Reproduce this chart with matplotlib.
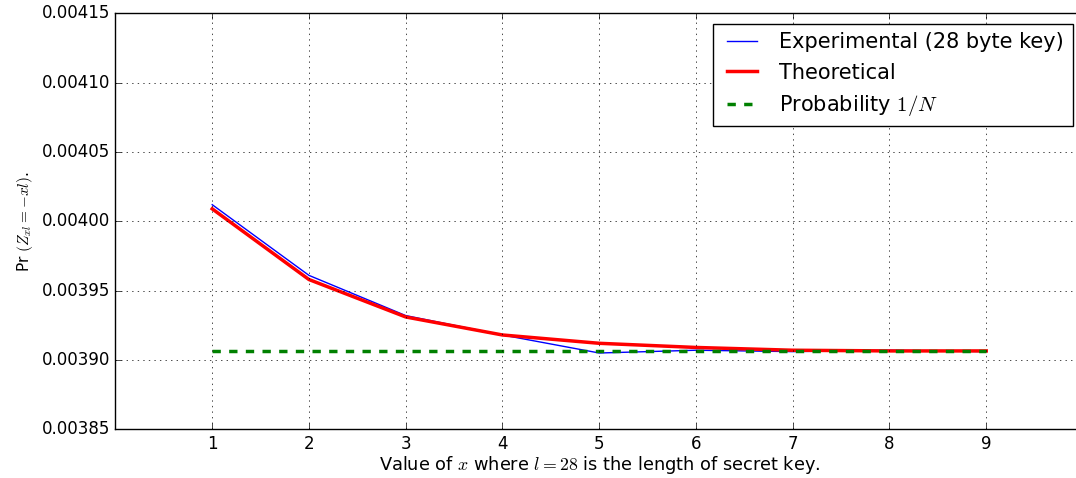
import matplotlib
matplotlib.use("Agg")
import matplotlib.pyplot as plt
from matplotlib.ticker import FormatStrFormatter

plt.style.use("classic")

x = [1, 2, 3, 4, 5, 6, 7, 8, 9]
experimental = [0.004012, 0.003961, 0.003932, 0.003918, 0.003905, 0.003907, 0.003906, 0.003907, 0.003906]
theoretical = [0.004009, 0.003958, 0.003931, 0.003918, 0.003912, 0.003909, 0.003907, 0.0039065, 0.0039065]
uniform = [1 / 256.0] * len(x)

fig = plt.figure(figsize=(10.76, 4.78), dpi=100)
# the right edge of the axes runs slightly past the image, as in the reference
ax = fig.add_axes([0.1073, 0.102, 0.8992, 0.870])

ax.plot(x, experimental, color="blue", lw=1, label="Experimental (28 byte key)")
ax.plot(x, theoretical, color="red", lw=2.5, label="Theoretical")
ax.plot(x, uniform, color="green", lw=2.5, ls="--", label=r"Probability $1/N$")

ax.set_xlim(0, 10)
ax.set_ylim(0.00385, 0.00415)
ax.set_xticks(x)
ax.set_yticks([0.00385, 0.00390, 0.00395, 0.00400, 0.00405, 0.00410, 0.00415])
ax.yaxis.set_major_formatter(FormatStrFormatter("%.5f"))
ax.tick_params(labelsize=12)
ax.grid(True)

ax.set_xlabel(r"Value of $x$ where $l=28$ is the length of secret key.", fontsize=12.8, labelpad=1)
ax.set_ylabel(r"Pr $(Z_{xl}=-xl)$.", fontsize=11)
ax.legend(loc="upper right", fontsize=15)

fig.savefig("out.png", dpi=100)
